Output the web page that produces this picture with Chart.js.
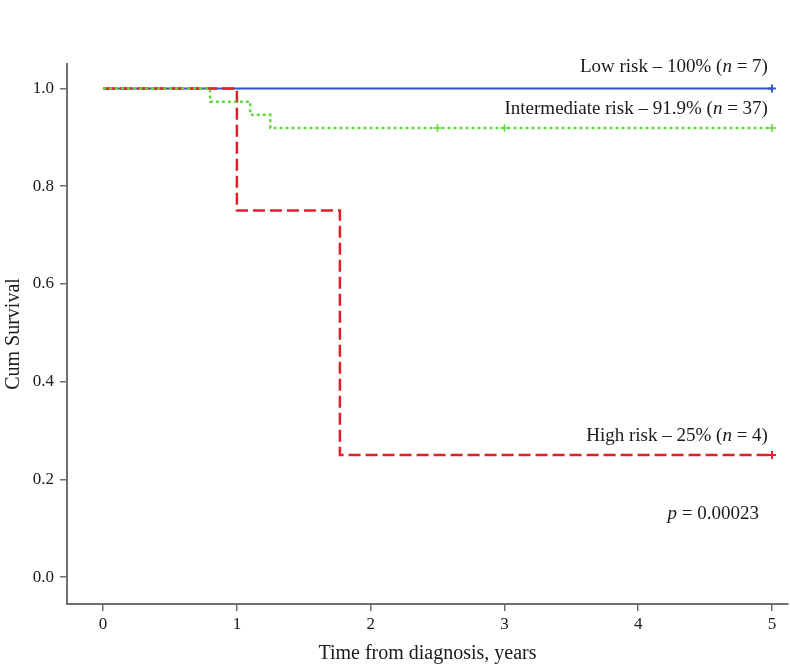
<!DOCTYPE html>
<html>
<head>
<meta charset="utf-8">
<script src="https://cdn.jsdelivr.net/npm/chart.js@4/dist/chart.umd.min.js"></script>
<style>
  html, body { margin: 0; padding: 0; background: #fff; overflow: hidden; }
  canvas { display: block; }
</style>
</head>
<body>
<!-- a few px wider than the window: Chart.js keeps ~5px spare on the right -->
<canvas id="km" width="794" height="670"></canvas>
<script>
// Kaplan-Meier steps: time of event (years) and survival after it
const lowTimes = [0, 5];
const lowSurv = [1, 1];
const lowCensor = [5];

const intTimes = [0, 0.8, 1.1, 1.25, 5];
const intSurv = [1, 0.973, 0.946, 0.919, 0.919];
const intCensor = [2.5, 3.0, 5];

const highTimes = [0, 1.0, 1.77, 5];
const highSurv = [1, 0.75, 0.25, 0.25];
const highCensor = [5];

const xTicks = [0, 1, 2, 3, 4, 5];
const yTicks = [0, 0.2, 0.4, 0.6, 0.8, 1.0];

const BLUE = '#3452cc';
const GREEN = '#62d93e';
const RED = '#e01f26';
const AXIS = '#6b7171';
const SERIF = '"Liberation Serif", "DejaVu Serif", serif';

const toPts = (xs, ys) => xs.map((x, i) => ({ x: x, y: ys[i] }));
// censored cases sit on the curve at the survival level in force at that time
const censorPts = (cs, xs, ys) => cs.map(c => {
    let y = ys[0];
    xs.forEach((x, i) => { if (x <= c) y = ys[i]; });
    return { x: c, y: y };
});

// curve labels, drawn as text with an italic n / p
const labelPlugin = {
    id: 'kmLabels',
    afterDraw(chart) {
        const ctx = chart.ctx;
        const xs = chart.scales.x, ys = chart.scales.y;
        const drawParts = (parts, right, cy) => {
            ctx.save();
            ctx.textBaseline = 'middle';
            ctx.fillStyle = '#1a1a1a';
            let w = 0;
            parts.forEach(p => { ctx.font = (p.it ? 'italic ' : '') + '19px ' + SERIF; p.w = ctx.measureText(p.t).width; w += p.w; });
            let x = right - w;
            parts.forEach(p => {
                ctx.font = (p.it ? 'italic ' : '') + '19px ' + SERIF;
                ctx.textAlign = 'left';
                ctx.fillText(p.t, x, cy);
                x += p.w;
            });
            ctx.restore();
        };
        const r = xs.getPixelForValue(5) - 4;
        drawParts([{ t: 'Low risk \u2013 100% (' }, { t: 'n', it: true }, { t: ' = 7)' }], r, ys.getPixelForValue(1) - 21);
        drawParts([{ t: 'Intermediate risk \u2013 91.9% (' }, { t: 'n', it: true }, { t: ' = 37)' }], r, ys.getPixelForValue(0.919) - 19);
        drawParts([{ t: 'High risk \u2013 25% (' }, { t: 'n', it: true }, { t: ' = 4)' }], r, ys.getPixelForValue(0.25) - 19);
        drawParts([{ t: 'p', it: true }, { t: ' = 0.00023' }], r - 9, ys.getPixelForValue(0.129));
    }
};

const ctx = document.getElementById('km').getContext('2d');
new Chart(ctx, {
    type: 'line',
    data: {
        datasets: [
            {
                label: 'Intermediate risk',
                data: toPts(intTimes, intSurv),
                stepped: 'before',
                borderColor: GREEN,
                borderWidth: 2.5,
                borderDash: [3, 3],
                pointRadius: 0,
                fill: false,
                order: 0
            },
            {
                label: 'High risk',
                data: toPts(highTimes, highSurv),
                stepped: 'before',
                borderColor: RED,
                borderWidth: 2.5,
                borderDash: [12, 5],
                pointRadius: 0,
                fill: false,
                order: 1
            },
            {
                label: 'Low risk',
                data: toPts(lowTimes, lowSurv),
                stepped: 'before',
                borderColor: BLUE,
                borderWidth: 2,
                pointRadius: 0,
                fill: false,
                order: 2
            },
            {
                type: 'scatter',
                data: censorPts(intCensor, intTimes, intSurv),
                pointStyle: 'cross',
                pointRadius: 4,
                borderColor: GREEN,
                borderWidth: 1.5,
                order: 0
            },
            {
                type: 'scatter',
                data: censorPts(highCensor, highTimes, highSurv),
                pointStyle: 'cross',
                pointRadius: 4,
                borderColor: RED,
                borderWidth: 2,
                order: 1
            },
            {
                type: 'scatter',
                data: censorPts(lowCensor, lowTimes, lowSurv),
                pointStyle: 'cross',
                pointRadius: 4,
                borderColor: BLUE,
                borderWidth: 2,
                order: 2
            }
        ]
    },
    options: {
        responsive: false,
        animation: false,
        events: [],
        layout: { padding: { top: 64, right: 1, left: 0, bottom: 0 } },
        plugins: {
            legend: { display: false },
            tooltip: { enabled: false }
        },
        scales: {
            x: {
                type: 'linear',
                min: -0.27,
                max: 5.12,
                afterBuildTicks: s => { s.ticks = xTicks.map(v => ({ value: v })); },
                afterFit: s => { s.height = 66; },
                border: { display: true, color: AXIS, width: 2 },
                grid: { drawOnChartArea: false, drawTicks: true, tickLength: 7, color: AXIS, lineWidth: 1.5 },
                ticks: {
                    color: '#1a1a1a',
                    padding: 3,
                    maxRotation: 0,
                    font: { family: SERIF, size: 17 },
                    callback: v => String(v)
                },
                title: {
                    display: true,
                    text: 'Time from diagnosis, years',
                    color: '#1a1a1a',
                    font: { family: SERIF, size: 20 },
                    padding: { top: 2, bottom: 4 }
                }
            },
            y: {
                type: 'linear',
                min: -0.055,
                max: 1.05,
                afterBuildTicks: s => { s.ticks = yTicks.map(v => ({ value: v })); },
                afterFit: s => { s.width = 67; },
                border: { display: true, color: AXIS, width: 2 },
                grid: { drawOnChartArea: false, drawTicks: true, tickLength: 7, color: AXIS, lineWidth: 1.5 },
                ticks: {
                    color: '#1a1a1a',
                    padding: 6,
                    font: { family: SERIF, size: 17 },
                    callback: v => Number(v).toFixed(1)
                },
                title: {
                    display: true,
                    text: 'Cum Survival',
                    color: '#1a1a1a',
                    font: { family: SERIF, size: 20 },
                    padding: { top: 2, bottom: 2 }
                }
            }
        }
    },
    plugins: [labelPlugin]
});
</script>
</body>
</html>
